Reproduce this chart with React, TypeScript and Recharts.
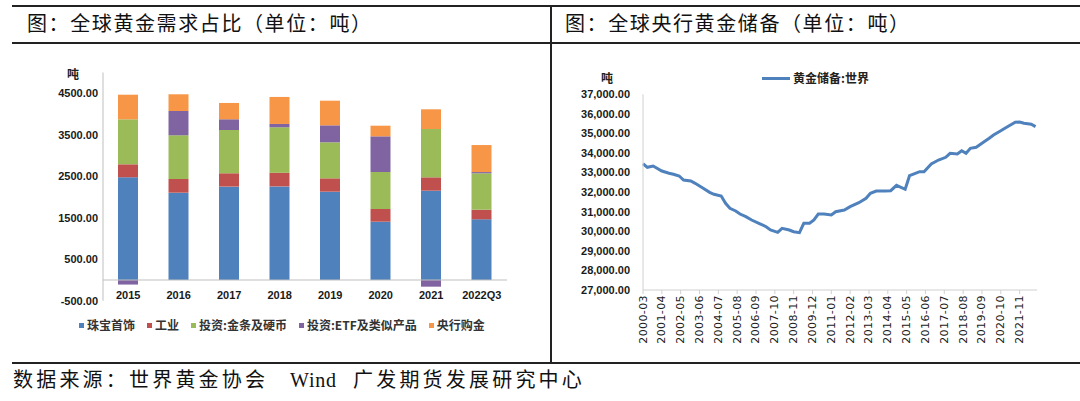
import React from 'react';
import { BarChart, Bar, XAxis, YAxis, ReferenceLine, LineChart, Line } from 'recharts';

// ---- Left chart data: global gold demand (tonnes) ----
const categories = ['2015', '2016', '2017', '2018', '2019', '2020', '2021', '2022Q3'];
const jewelry = [2475, 2104, 2250, 2255, 2128, 1405, 2152, 1462];
const industry = [313, 330, 322, 332, 322, 306, 322, 232];
const barsCoins = [1084, 1053, 1043, 1093, 868, 891, 1165, 877];
const etf = [-110, 585, 258, 80, 409, 860, -161, 30];
const centralBank = [593, 403, 393, 651, 594, 256, 474, 651];
const seriesKeys = ['jewelry', 'industry', 'barsCoins', 'etf', 'centralBank'];
const seriesNames = ['珠宝首饰', '工业', '投资:金条及硬币', '投资:ETF及类似产品', '央行购金'];
const seriesColors = ['#4F81BD', '#C0504D', '#9BBB59', '#8064A2', '#F79646'];
const leftTicks = [-500, 500, 1500, 2500, 3500, 4500];

// ---- Right chart data: world central bank gold reserves (tonnes) ----
const reserveDates = [
  '2000-03', '2000-06', '2000-10', '2001-04', '2001-09', '2001-12', '2002-04', '2002-07', '2002-12',
  '2003-03', '2003-08', '2004-01', '2004-04', '2004-09', '2004-12', '2005-03', '2005-07', '2005-10',
  '2006-02', '2006-06', '2006-11', '2007-04', '2007-07', '2007-12', '2008-03', '2008-08', '2008-11',
  '2009-03', '2009-06', '2009-10', '2010-01', '2010-04', '2010-08', '2011-01', '2011-04', '2011-10',
  '2012-02', '2012-08', '2013-01', '2013-04', '2013-08', '2014-02', '2014-06', '2014-10', '2015-04',
  '2015-07', '2015-11', '2016-02', '2016-05', '2016-10', '2017-03', '2017-08', '2017-11', '2018-04',
  '2018-07', '2018-10', '2019-01', '2019-05', '2019-09', '2020-02', '2020-05', '2020-10', '2021-02',
  '2021-08', '2021-11', '2022-02', '2022-07', '2022-10',
];
const reserveValues = [
  33450, 33270, 33336, 33080, 32963, 32912, 32825, 32620, 32570,
  32452, 32227, 31992, 31890, 31803, 31430, 31175, 31036, 30883,
  30747, 30577, 30408, 30235, 30066, 29948, 30153, 30066, 29980,
  29930, 30408, 30408, 30577, 30883, 30883, 30832, 31001, 31087,
  31256, 31460, 31686, 31941, 32059, 32059, 32075, 32350, 32146,
  32841, 32963, 33045, 33045, 33438, 33643, 33781, 33985, 33949,
  34118, 33985, 34241, 34292, 34496, 34752, 34921, 35140, 35314,
  35569, 35585, 35518, 35467, 35345,
];
const dateTicks = [
  '2000-03', '2001-04', '2002-05', '2003-06', '2004-07', '2005-08', '2006-09', '2007-10',
  '2008-11', '2009-12', '2011-01', '2012-02', '2013-03', '2014-04', '2015-05', '2016-06',
  '2017-07', '2018-08', '2019-09', '2020-10', '2021-11',
];
const rightTicks = [27000, 28000, 29000, 30000, 31000, 32000, 33000, 34000, 35000, 36000, 37000];
const lineName = '黄金储备:世界';
const lineColor = '#4F81BD';

const monthIndex = (s: string) => {
  const [y, m] = s.split('-').map(Number);
  return (y - 2000) * 12 + (m - 3);
};

const barData = categories.map((c, i) => ({
  cat: c,
  jewelry: jewelry[i],
  industry: industry[i],
  barsCoins: barsCoins[i],
  etf: etf[i],
  centralBank: centralBank[i],
}));

const lineData = reserveDates.map((d, i) => ({ m: monthIndex(d), v: reserveValues[i] }));
const dateTickIdx = dateTicks.map(monthIndex);

const CJK = '"Noto Sans CJK SC", "Noto Sans", sans-serif';
const SERIF = '"Liberation Serif", "Noto Sans CJK SC", serif';
const AXISF = '"Liberation Sans", Arial, sans-serif';

const LeftXTick = (props: any) => {
  const { x, y, payload } = props;
  return (
    <text x={x} y={y} dy={-6} textAnchor="middle" dominantBaseline="central"
      fontFamily={AXISF} fontWeight={700} fontSize={11} fill="#1a1a1a">
      {payload.value}
    </text>
  );
};

const RightXTick = (props: any) => {
  const { x, y, payload } = props;
  const label = dateTicks[dateTickIdx.indexOf(payload.value)] ?? '';
  return (
    <text x={x} y={y} transform={`rotate(-90, ${x}, ${y})`} textAnchor="end" dominantBaseline="central"
      fontFamily='"DejaVu Sans", sans-serif' fontSize={11} fill="#1a1a1a" letterSpacing={0.4}>
      {label}
    </text>
  );
};

const abs = (o: React.CSSProperties): React.CSSProperties => ({ position: 'absolute', ...o });

export default function App() {
  return (
    <div style={abs({ left: 0, top: 0, width: 1080, height: 401, background: '#fff', overflow: 'hidden' })}>
      {/* frame lines */}
      <div style={abs({ left: 12, top: 5, width: 1068, height: 2, background: '#222' })} />
      <div style={abs({ left: 12, top: 42, width: 1068, height: 2, background: '#222' })} />
      <div style={abs({ left: 12, top: 362, width: 1068, height: 2, background: '#222' })} />
      <div style={abs({ left: 550, top: 6, width: 2, height: 357, background: '#222' })} />

      {/* headers */}
      <div style={abs({ left: 27, top: 11, fontFamily: SERIF, fontSize: 20, lineHeight: '26px', letterSpacing: 1.6, color: '#111', whiteSpace: 'nowrap' })}>
        图：全球黄金需求占比（单位：吨）
      </div>
      <div style={abs({ left: 565, top: 11, fontFamily: SERIF, fontSize: 20, lineHeight: '26px', letterSpacing: 1.6, color: '#111', whiteSpace: 'nowrap' })}>
        图：全球央行黄金储备（单位：吨）
      </div>

      {/* footer */}
      <div style={abs({ left: 13, top: 367, fontFamily: SERIF, fontSize: 20, lineHeight: '26px', letterSpacing: 3.2, color: '#111', whiteSpace: 'nowrap' })}>
        数据来源：世界黄金协会
      </div>
      <div style={abs({ left: 290, top: 367, fontFamily: SERIF, fontSize: 20, lineHeight: '26px', letterSpacing: 0.8, color: '#111', whiteSpace: 'nowrap' })}>
        Wind
      </div>
      <div style={abs({ left: 353, top: 367, fontFamily: SERIF, fontSize: 20, lineHeight: '26px', letterSpacing: 3.2, color: '#111', whiteSpace: 'nowrap' })}>
        广发期货发展研究中心
      </div>

      {/* left chart */}
      <div style={abs({ left: 0, top: 0, width: 551, height: 362 })}>
        <BarChart width={551} height={362} data={barData} stackOffset="sign"
          margin={{ top: 72.5, right: 44, bottom: 31.25, left: 0 }}>
          <YAxis type="number" domain={[-500, 5000]} ticks={leftTicks} width={103}
            axisLine={{ stroke: '#BFBFBF' }} tickLine={false} tickSize={0} tickMargin={5}
            tickFormatter={(v: number) => v.toFixed(2)}
            tick={{ fontFamily: AXISF, fontWeight: 700, fontSize: 11, fill: '#1a1a1a' }} />
          <XAxis dataKey="cat" height={30} axisLine={false} tickLine={false} tickSize={0} tickMargin={0}
            interval={0} tick={<LeftXTick />} />
          <ReferenceLine y={0} stroke="#BFBFBF" />
          {seriesKeys.map((k, i) => (
            <Bar key={k} dataKey={k} name={seriesNames[i]} stackId="a" fill={seriesColors[i]}
              barSize={20} isAnimationActive={false} />
          ))}
        </BarChart>
      </div>
      <div style={abs({ left: 67, top: 66, fontFamily: CJK, fontWeight: 700, fontSize: 12, lineHeight: '16px', color: '#222' })}>吨</div>

      {/* left legend */}
      <div style={abs({ left: 79, top: 317, display: 'flex', alignItems: 'center', gap: 12, whiteSpace: 'nowrap' })}>
        {seriesNames.map((n, i) => (
          <div key={n} style={{ display: 'flex', alignItems: 'center' }}>
            <span style={{ display: 'inline-block', width: 5, height: 5, background: seriesColors[i], marginRight: 3 }} />
            <span style={{ fontFamily: CJK, fontWeight: 700, fontSize: 12, lineHeight: '16px', color: '#333' }}>{n}</span>
          </div>
        ))}
      </div>

      {/* right chart */}
      <div style={abs({ left: 551, top: 43, width: 529, height: 319 })}>
        <LineChart width={529} height={319} data={lineData}
          margin={{ top: 51.3, right: 43, bottom: 12, left: 0 }}>
          <YAxis type="number" domain={[27000, 37000]} ticks={rightTicks} width={92}
            axisLine={{ stroke: '#D0D0D0' }} tickLine={false} tickSize={0} tickMargin={13}
            tickFormatter={(v: number) => v.toLocaleString('en-US', { minimumFractionDigits: 2, maximumFractionDigits: 2 })}
            tick={{ fontFamily: AXISF, fontWeight: 700, fontSize: 11, fill: '#1a1a1a' }} />
          <XAxis dataKey="m" type="number" domain={[0, 272]} ticks={dateTickIdx} height={60}
            axisLine={{ stroke: '#D0D0D0' }} tickLine={{ stroke: '#D0D0D0' }} tickSize={4} tickMargin={1}
            interval={0} tick={<RightXTick />} />
          <Line type="linear" dataKey="v" name={lineName} stroke={lineColor} strokeWidth={3}
            dot={false} isAnimationActive={false} />
        </LineChart>
      </div>
      <div style={abs({ left: 601, top: 70, fontFamily: CJK, fontWeight: 700, fontSize: 12, lineHeight: '16px', color: '#222' })}>吨</div>

      {/* right legend */}
      <div style={abs({ left: 762, top: 70, display: 'flex', alignItems: 'center', whiteSpace: 'nowrap' })}>
        <span style={{ display: 'inline-block', width: 28, height: 3, background: lineColor, marginRight: 3 }} />
        <span style={{ fontFamily: CJK, fontWeight: 700, fontSize: 12, lineHeight: '16px', color: '#222' }}>{lineName}</span>
      </div>
    </div>
  );
}
